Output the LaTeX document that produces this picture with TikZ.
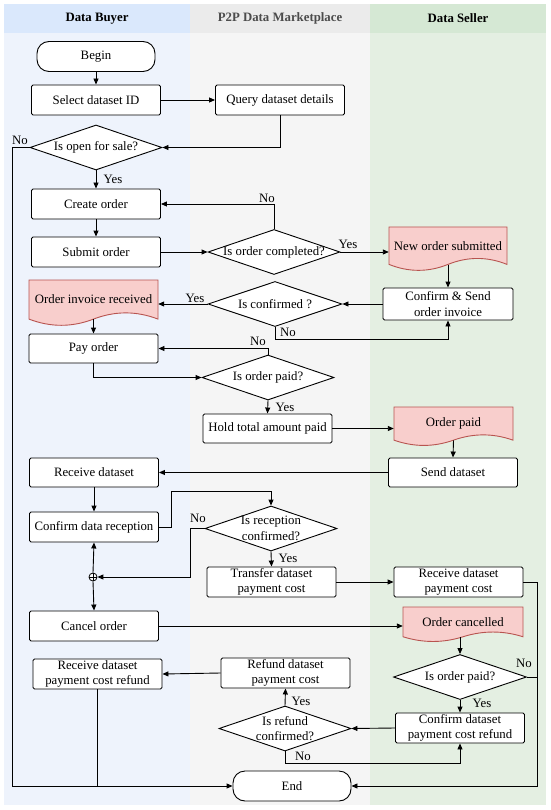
\documentclass[tikz,border=0pt]{standalone}
\usepackage{fontspec}
\setmainfont{Liberation Serif}
\usetikzlibrary{shapes.geometric,arrows.meta,calc}

\definecolor{buyerhead}{HTML}{DAE8FC}
\definecolor{buyerbody}{HTML}{EEF3FC}
\definecolor{markethead}{HTML}{EBEBEB}
\definecolor{marketbody}{HTML}{F5F5F5}
\definecolor{sellerhead}{HTML}{D5E8D4}
\definecolor{sellerbody}{HTML}{E4EFE2}
\definecolor{docfill}{HTML}{F8CECC}
\definecolor{docline}{HTML}{B85450}

% document shape: name, left x, top y, width, height, text
\newcommand{\docnode}[6]{%
  \begin{scope}[shift={(#2,#3)},x=#4pt,y=-#5pt]
    \draw[docshape] (0,0) -- (1,0) -- (1,0.85)
      .. controls (0.8333,0.67) and (0.6667,0.67) .. (0.5,0.85)
      .. controls (0.3333,1.03) and (0.1667,1.03) .. (0,0.85) -- cycle;
  \end{scope}
  \node[doctext, minimum width=#4pt, minimum height={0.85*#5pt}] (#1)
    at ({#2+#4/2},{#3+0.425*#5}) {#6};
}

\begin{document}
\begin{tikzpicture}
  [x=1pt,y=-1pt,font=\fontsize{12.8}{15.5}\selectfont,
   process/.style={draw,fill=white,line width=0.9pt,rounded corners=1.5pt,
     minimum width=129pt,minimum height=30pt,inner sep=1pt,align=center},
   term/.style={process,rounded corners=12pt,minimum width=118pt},
   decision/.style={draw,fill=white,line width=0.9pt,diamond,inner sep=0pt,
     minimum width=132pt,minimum height=45pt},
   docshape/.style={fill=docfill,draw=docline,line width=0.9pt},
   doctext/.style={inner sep=0pt,align=center},
   lanehead/.style={font=\fontsize{12.8}{15.5}\selectfont\bfseries},
   lbl/.style={inner sep=0pt},
   junction/.style={draw,circle,fill=white,line width=0.8pt,minimum size=8pt,inner sep=0pt},
   arr/.style={line width=0.9pt,-{Triangle[length=6pt,width=5pt]}},
   line/.style={line width=0.9pt}]

  \useasboundingbox (0,0) rectangle (550,810);

  % lanes
  \fill[buyerbody]  (4,4)   rectangle (190,805);
  \fill[marketbody] (190,4) rectangle (370,805);
  \fill[sellerbody] (370,4) rectangle (546,805);
  \fill[buyerhead]  (4,4)   rectangle (190,33);
  \fill[markethead] (190,4) rectangle (370,33);
  \fill[sellerhead] (370,4) rectangle (546,33);
  \node[lanehead] (hbuyer)  at (97,18.5)  {Data Buyer};
  \node[lanehead, text=black!70] (hmarket) at (280,18.5) {P2P Data Marketplace};
  \node[lanehead] (hseller) at (458,18.5) {Data Seller};

  % documents
  \docnode{newdoc}{389}{227}{118}{44}{New order submitted}
  \docnode{invdoc}{29}{280}{129}{46}{Order invoice received}
  \docnode{paiddoc}{394}{407}{119}{39}{Order paid}
  \docnode{canceldoc}{403}{607}{120}{35}{Order cancelled}

  % nodes
  \node[term] (begin) at (96,56.5) {Begin};
  \node[process] (select) at (96,100) {Select dataset ID};
  \node[process] (query) at (280,100) {Query dataset details};
  \node[decision, label={center:Is open for sale?}] (dopen) at (96,147.5) {};
  \node[process] (create) at (96,204) {Create order};
  \node[process] (submit) at (96,252) {Submit order};
  \node[decision, label={center:Is order completed?}] (dcomp) at (274,252) {};
  \node[process, minimum width=130pt, minimum height=32pt] (confirm) at (448,304) {Confirm \& Send\\order invoice};
  \node[decision, minimum width=134pt, label={center:Is confirmed ?}] (dconf) at (275,304) {};
  \node[process, minimum height=29pt] (pay) at (93.5,348.5) {Pay order};
  \node[decision, label={center:Is order paid?}] (dpaid) at (268,377.5) {};
  \node[process, minimum height=29pt] (hold) at (267.5,428.5) {Hold total amount paid};
  \node[process, minimum height=29pt] (send) at (453,472.5) {Send dataset};
  \node[process, minimum height=29pt] (recv) at (94,472.5) {Receive dataset};
  \node[process] (confrec) at (94,527) {Confirm data reception};
  \node[decision, label={[align=center]center:{Is reception\\confirmed?}}] (drec) at (271,528.5) {};
  \node[junction] (junc) at (93,577) {};
  \node[process] (transfer) at (271.5,582) {Transfer dataset\\payment cost};
  \node[process] (rcvcost) at (458.5,582) {Receive dataset\\payment cost};
  \node[process] (cancel) at (94,626) {Cancel order};
  \node[decision, minimum width=133pt, label={center:Is order paid?}] (dseller) at (460,677) {};
  \node[process] (rcvref) at (97.5,674) {Receive dataset\\payment cost refund};
  \node[process] (refund) at (285.5,673) {Refund dataset\\payment cost};
  \node[decision, label={[align=center]center:{Is refund\\confirmed?}}] (dref) at (285,728.5) {};
  \node[process] (confref) at (460,728) {Confirm dataset\\payment cost refund};
  \node[term] (end) at (292,786) {End};

  % yes / no labels
  \node[lbl] (lno1)  at (20,140)  {No};
  \node[lbl] (lyes1) at (113,179) {Yes};
  \node[lbl] (lno2)  at (267,198) {No};
  \node[lbl] (lyes2) at (348,244) {Yes};
  \node[lbl] (lyes3) at (195,298) {Yes};
  \node[lbl] (lno3)  at (288,332) {No};
  \node[lbl] (lno4)  at (258,341) {No};
  \node[lbl] (lyes4) at (285,407) {Yes};
  \node[lbl] (lno5)  at (198,518) {No};
  \node[lbl] (lyes5) at (288,558) {Yes};
  \node[lbl] (lno6)  at (524,663) {No};
  \node[lbl] (lyes6) at (482,703) {Yes};
  \node[lbl] (lyes7) at (301,701) {Yes};
  \node[lbl] (lno7)  at (303,756) {No};

  % connectors
  \draw[arr] (begin) -- (select);
  \draw[arr] (select) -- (query);
  \draw[arr] (query.south) |- (dopen.east);
  \draw[arr] (dopen.west) -- ++(-17,0) |- (end.west);
  \draw[arr] (dopen.south) -- (create.north);
  \draw[arr] (create) -- (submit);
  \draw[arr] (submit.east) -- (dcomp.west);
  \draw[arr] (dcomp.north) |- (create.east);
  \draw[arr] (dcomp.east) -- (dcomp.east -| newdoc.west);
  \draw[arr] (newdoc.south) -- (confirm.north);
  \draw[arr] (confirm.west) -- (dconf.east);
  \draw[arr] (dconf.west) -- (dconf.west -| invdoc.east);
  \draw[arr] (dconf.south) -- ++(0,12) -| (confirm.south);
  \draw[arr] (invdoc.south) -- (pay.north);
  \draw[arr] (dpaid.north) |- (pay.east);
  \draw[arr] (pay.south) |- (dpaid.west);
  \draw[arr] (dpaid.south) -- (hold.north);
  \draw[arr] (hold.east) -- (hold.east -| paiddoc.west);
  \draw[arr] (paiddoc.south) -- (send.north);
  \draw[arr] (send.west) -- (recv.east);
  \draw[arr] (recv) -- (confrec);
  \draw[arr] (confrec.east) -- ++(12,0) |- ($(drec.north)-(0,14)$) -- (drec.north);
  \draw[arr] (drec.west) -- ++(-14,0) |- (junc.east);
  \draw[arr] (junc.north) -- (confrec.south);
  \draw[arr] (junc.south) -- (cancel.north);
  \draw[line] (junc.west) -- (junc.east) (junc.north) -- (junc.south);
  \draw[arr] (drec.south) -- (transfer.north);
  \draw[arr] (transfer.east) -- (rcvcost.west);
  \draw[arr] (rcvcost.east) -- ++(14,0) |- (end.east);
  \draw[arr] (cancel.east) -- (cancel.east -| canceldoc.west);
  \draw[arr] (canceldoc.south -| dseller.north) -- (dseller.north);
  \draw[line] (dseller.east) -- ++(11,0);
  \draw[arr] (dseller.south) -- (confref.north);
  \draw[arr] (confref.west) -- (dref.east);
  \draw[arr] (dref.north) -- (refund.south);
  \draw[arr] (dref.south) -- ++(0,12) -| (confref.south);
  \draw[arr] (refund.west) -- (rcvref.east);
  \draw[line] (rcvref.south) -- (rcvref.south |- end.west);

\end{tikzpicture}
\end{document}
